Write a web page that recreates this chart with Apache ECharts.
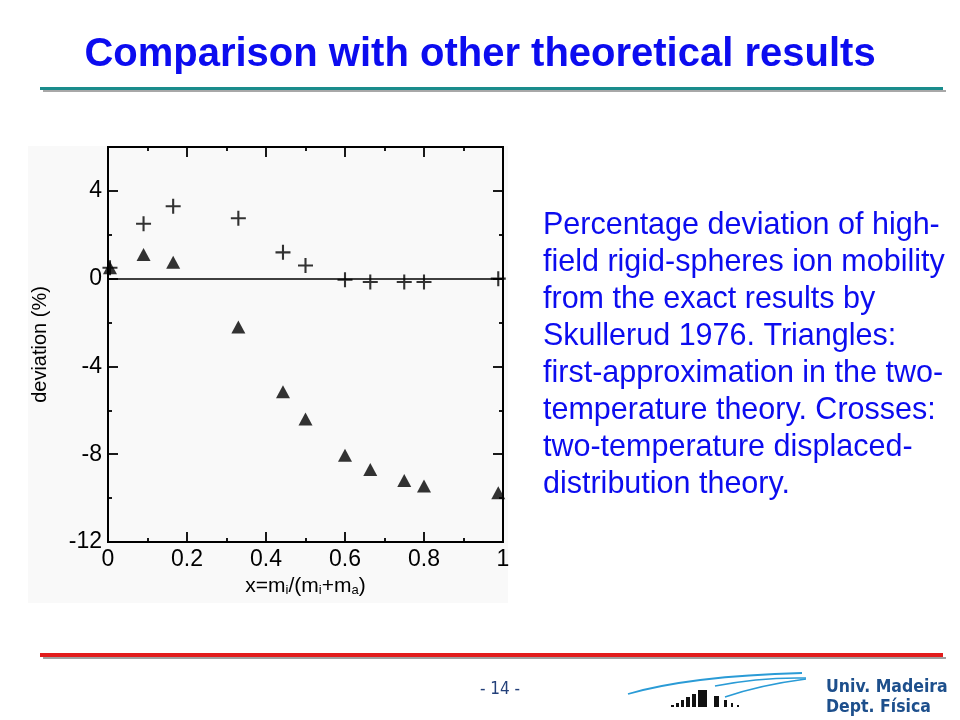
<!DOCTYPE html>
<html>
<head>
<meta charset="utf-8">
<script src="https://cdn.jsdelivr.net/npm/echarts@6/dist/echarts.min.js"></script>
<style>
  html, body { margin: 0; padding: 0; background: #ffffff; }
  #chart { width: 960px; height: 720px; }
</style>
</head>
<body>
<div id="chart"></div>
<script>
// ---- data ----
const massRatio = [0.005, 0.09, 0.165, 0.33, 0.443, 0.5, 0.6, 0.664, 0.75, 0.8, 0.988];
const triangleDev = [0.5, 1.1, 0.75, -2.2, -5.15, -6.4, -8.05, -8.7, -9.2, -9.45, -9.75];
const crossDev = [0.5, 2.5, 3.3, 2.75, 1.2, 0.6, -0.05, -0.15, -0.15, -0.15, 0.0];
const yMajorTicks = [-12, -8, -4, 0, 4];
const yMinorTicks = [-10, -6, -2, 2];
const titleText = 'Comparison with other theoretical results';
const captionLines = [
  'Percentage deviation of high-',
  'field rigid-spheres ion mobility',
  'from the exact results by',
  'Skullerud 1976. Triangles:',
  'first-approximation in the two-',
  'temperature theory. Crosses:',
  'two-temperature displaced-',
  'distribution theory.'
];

const FONT = '"Liberation Sans", Arial, sans-serif';
const chart = echarts.init(document.getElementById('chart'), null, { renderer: 'canvas' });

const triPts = massRatio.map((x, i) => [x, triangleDev[i]]);
const crossPts = massRatio.map((x, i) => [x, crossDev[i]]);
const plusPath = 'path://M8.6,0 L11.4,0 L11.4,8.6 L20,8.6 L20,11.4 L11.4,11.4 L11.4,20 L8.6,20 L8.6,11.4 L0,11.4 L0,8.6 L8.6,8.6 Z';

function axisLine() { return { show: true, onZero: false, lineStyle: { color: '#000', width: 2 } }; }

function yAxisDef(pos, ticks, len, withLabels) {
  return {
    type: 'value', position: pos, min: -12, max: 6, interval: 2,
    axisLine: axisLine(),
    axisTick: { show: true, inside: true, length: len, customValues: ticks, lineStyle: { color: '#000', width: 1.8 } },
    axisLabel: withLabels ? { show: true, customValues: yMajorTicks, fontSize: 23, color: '#000', fontFamily: FONT, margin: 6 } : { show: false },
    splitLine: { show: false }
  };
}

const option = {
  animation: false,
  backgroundColor: '#ffffff',
  grid: { left: 108, top: 147, right: 457, bottom: 178, show: false },
  xAxis: [
    {
      type: 'value', position: 'bottom', min: 0, max: 1, interval: 0.2,
      axisLine: axisLine(),
      axisTick: { show: true, inside: true, length: 10, lineStyle: { color: '#000', width: 1.8 } },
      minorTick: { show: true, splitNumber: 2, length: 4, lineStyle: { color: '#000', width: 1.8 } },
      axisLabel: { fontSize: 23, color: '#000', fontFamily: FONT, margin: 6, formatter: v => String(+v.toFixed(1)) },
      splitLine: { show: false }, minorSplitLine: { show: false },
      name: '{n|x=m}{s|i}{n|/(m}{s|i}{n|+m}{s|a}{n|)}',
      nameLocation: 'middle', nameGap: 29,
      nameTextStyle: {
        rich: {
          n: { fontSize: 21, color: '#000', fontFamily: FONT, lineHeight: 22 },
          s: { fontSize: 13, color: '#000', fontFamily: FONT, verticalAlign: 'bottom', lineHeight: 13 }
        }
      }
    },
    {
      type: 'value', position: 'top', min: 0, max: 1, interval: 0.2,
      axisLine: axisLine(),
      axisTick: { show: true, inside: true, length: 10, lineStyle: { color: '#000', width: 1.8 } },
      minorTick: { show: true, splitNumber: 2, length: 4, lineStyle: { color: '#000', width: 1.8 } },
      axisLabel: { show: false },
      splitLine: { show: false }
    }
  ],
  yAxis: [
    Object.assign(yAxisDef('left', yMajorTicks, 10, true), {
      name: 'deviation (%)', nameLocation: 'middle', nameGap: 58,
      nameTextStyle: { fontSize: 20, color: '#000', fontFamily: FONT }
    }),
    yAxisDef('right', yMajorTicks, 10, false),
    yAxisDef('left', yMinorTicks, 4, false),
    yAxisDef('right', yMinorTicks, 4, false)
  ],
  series: [
    {
      name: 'Crosses', type: 'scatter', xAxisIndex: 0, yAxisIndex: 0, clip: false,
      data: crossPts, symbol: plusPath, symbolSize: 15,
      itemStyle: { color: '#000' },
      markLine: {
        silent: true, symbol: 'none', label: { show: false },
        lineStyle: { color: '#000', width: 1.5, type: 'solid' },
        data: [{ yAxis: 0 }]
      }
    },
    {
      name: 'Triangles', type: 'scatter', xAxisIndex: 0, yAxisIndex: 0, clip: false,
      data: triPts, symbol: 'triangle', symbolSize: [14, 13],
      itemStyle: { color: '#000' }
    }
  ],
  graphic: [
    // light background of the embedded figure
    { type: 'rect', z: -10, silent: true, shape: { x: 28, y: 146, width: 480, height: 457 }, style: { fill: '#f9f9f9' } },
    // title
    { type: 'text', left: 'center', top: 35, style: { text: titleText, font: 'bold 40px ' + FONT, fill: '#0c0cef' } },
    // teal rule with shadow
    { type: 'rect', shape: { x: 43, y: 90, width: 903, height: 2 }, style: { fill: '#a8a8a8' } },
    { type: 'rect', shape: { x: 40, y: 87, width: 903, height: 3 }, style: { fill: '#1a8c8c' } },
    // red rule with shadow
    { type: 'rect', shape: { x: 43, y: 657, width: 903, height: 2 }, style: { fill: '#a0a0a0' } },
    { type: 'rect', shape: { x: 40, y: 653, width: 903, height: 4 }, style: { fill: '#e21c1c' } },
    // caption
    { type: 'text', x: 543, y: 207, style: { text: captionLines.join('\n'), font: '30.5px ' + FONT, fill: '#0c0cef', lineHeight: 37 } },
    // page number
    { type: 'text', x: 500, y: 690, style: { text: '- 14 -', font: '17px "DejaVu Sans Condensed", "Liberation Sans Narrow", sans-serif', fill: '#23407a', align: 'center', verticalAlign: 'middle' } },
    // institution
    { type: 'text', x: 826, y: 687, style: { text: 'Univ. Madeira', font: 'bold 17.5px "DejaVu Sans Condensed", "Liberation Sans", sans-serif', fill: '#1d4f8c', verticalAlign: 'middle' } },
    { type: 'text', x: 826, y: 707, style: { text: 'Dept. Física', font: 'bold 17.5px "DejaVu Sans Condensed", "Liberation Sans", sans-serif', fill: '#1d4f8c', verticalAlign: 'middle' } },
    // logo swooshes
    { type: 'bezierCurve', shape: { x1: 628, y1: 694, x2: 802, y2: 673, cpx1: 690, cpy1: 676 }, style: { stroke: '#2a9bd6', lineWidth: 1.8, fill: null } },
    { type: 'bezierCurve', shape: { x1: 715, y1: 686, x2: 806, y2: 678, cpx1: 760, cpy1: 677 }, style: { stroke: '#2a9bd6', lineWidth: 1.5, fill: null } },
    { type: 'bezierCurve', shape: { x1: 725, y1: 697, x2: 806, y2: 679, cpx1: 760, cpy1: 685 }, style: { stroke: '#2a9bd6', lineWidth: 1.5, fill: null } },
    // logo bars
    { type: 'rect', shape: { x: 671, y: 705, width: 3, height: 2 }, style: { fill: '#111' } },
    { type: 'rect', shape: { x: 676, y: 703, width: 3, height: 4 }, style: { fill: '#111' } },
    { type: 'rect', shape: { x: 681, y: 700, width: 3, height: 7 }, style: { fill: '#111' } },
    { type: 'rect', shape: { x: 686, y: 697, width: 4, height: 10 }, style: { fill: '#111' } },
    { type: 'rect', shape: { x: 692, y: 694, width: 4, height: 13 }, style: { fill: '#111' } },
    { type: 'rect', shape: { x: 698, y: 690, width: 9, height: 17 }, style: { fill: '#111' } },
    { type: 'rect', shape: { x: 714, y: 696, width: 5, height: 11 }, style: { fill: '#111' } },
    { type: 'rect', shape: { x: 724, y: 700, width: 3, height: 7 }, style: { fill: '#111' } },
    { type: 'rect', shape: { x: 731, y: 703, width: 2, height: 4 }, style: { fill: '#111' } },
    { type: 'rect', shape: { x: 737, y: 705, width: 2, height: 2 }, style: { fill: '#111' } }
  ]
};

chart.setOption(option);
</script>
</body>
</html>
